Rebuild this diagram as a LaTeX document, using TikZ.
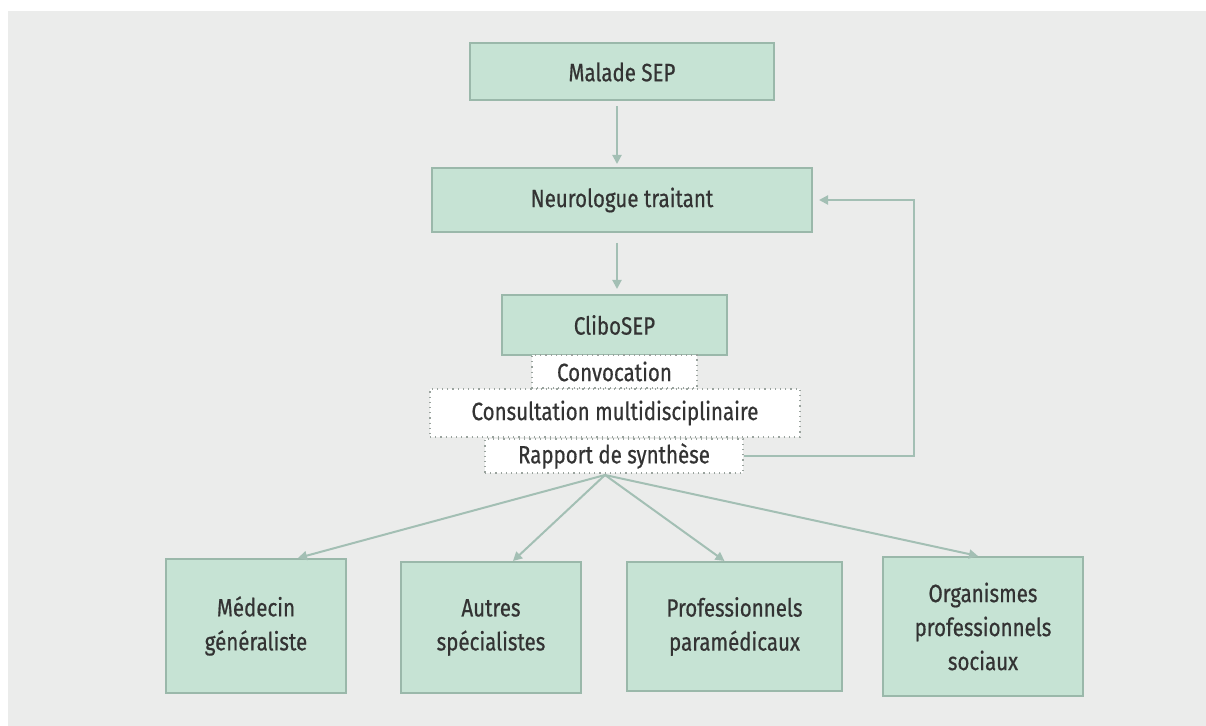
\documentclass[tikz,border=0pt]{standalone}
\usepackage{fontspec}
\setmainfont{Fira Sans}[FakeStretch=0.82, FakeBold=0.6]
\usetikzlibrary{arrows.meta}

\definecolor{panelgray}{HTML}{EBECEB}
\definecolor{boxfill}{HTML}{C6E3D4}
\definecolor{boxline}{HTML}{9AB8AA}
\definecolor{arrowcol}{HTML}{A3BFB4}
\definecolor{dotcol}{HTML}{9AA39E}
\definecolor{textcol}{HTML}{333333}

\tikzset{
  greenbox/.style={draw=boxline, fill=boxfill, line width=1pt, inner sep=0pt,
    text=textcol, align=center, font=\fontsize{12.5}{17}\selectfont},
  dotbox/.style={draw=dotcol, fill=white, dotted, line width=0.6pt, inner sep=0pt,
    text=textcol, font=\fontsize{12.5}{17}\selectfont},
  flow/.style={draw=arrowcol, line width=1pt, -{Triangle[length=4.5pt,width=4.5pt]}}
}

\begin{document}
\begin{tikzpicture}[x=0.5pt, y=-0.5pt]

% Background
\fill[white] (0,0) rectangle (1206,726);
\fill[panelgray] (8,11) rectangle (1206,726);
\useasboundingbox (0,0) rectangle (1206,726);

% Top boxes
\node[greenbox, minimum width=152pt, minimum height=28.5pt] (malade) at (622,72) {Malade SEP};
\node[greenbox, minimum width=190pt, minimum height=32pt] (neuro) at (622,200) {Neurologue traitant};
\node[greenbox, minimum width=112.5pt, minimum height=30pt] (clibo) at (614.5,325) {CliboSEP};

% Dotted boxes
\node[dotbox, minimum width=82.5pt, minimum height=16.5pt] (convoc) at (614.5,371.5) {Convocation};
\node[dotbox, minimum width=185pt, minimum height=24pt] (consult) at (615,413) {Consultation multidisciplinaire};
\node[dotbox, minimum width=129pt, minimum height=17pt] (rapport) at (614,456) {Rapport de synthèse};

% Bottom boxes
\node[greenbox, minimum width=90pt, minimum height=67pt] (medecin) at (256,626) {Médecin\\généraliste};
\node[greenbox, minimum width=90pt, minimum height=65.5pt] (autres) at (491,627.5) {Autres\\spécialistes};
\node[greenbox, minimum width=107.5pt, minimum height=64.5pt] (prof) at (734.5,626.5) {Professionnels\\paramédicaux};
\node[greenbox, minimum width=100pt, minimum height=69.5pt] (orga) at (983,626.5) {Organismes\\professionnels\\sociaux};

% Arrows
\coordinate (hub) at (605,475);
\draw[flow, shorten <=2.5pt, shorten >=1.5pt] ([xshift=-2.5pt]malade.south) -- ([xshift=-2.5pt]neuro.north);
\draw[flow, shorten <=5pt, shorten >=2.5pt] ([xshift=-2.5pt]neuro.south) -- ([xshift=-2.5pt]neuro.south |- clibo.north);
\draw[flow, shorten >=3pt] (rapport.east) -- ++(85pt,0) |- (neuro.east);
\draw[flow] (hub) -- ([xshift=21pt]medecin.north);
\draw[flow] (hub) -- ([xshift=11pt]autres.north);
\draw[flow] (hub) -- ([xshift=-5pt]prof.north);
\draw[flow] (hub) -- ([xshift=-2.5pt]orga.north);

\end{tikzpicture}
\end{document}
